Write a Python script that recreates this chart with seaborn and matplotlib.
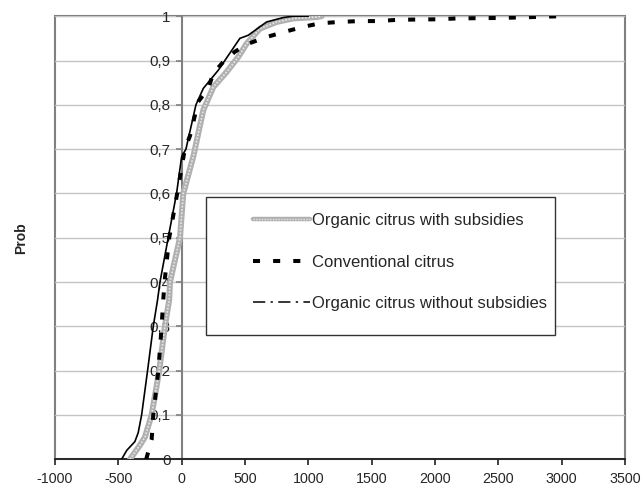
import numpy as np
import pandas as pd
import matplotlib
matplotlib.use("Agg")
import matplotlib.pyplot as plt
from matplotlib.lines import Line2D
from matplotlib.patches import Rectangle
import seaborn as sns

# Curvas de probabilidade acumulada
sub_x = [-408, -329, -290, -237, -177, -132, -98, -92, -13, 13, 92, 105, 131, 171, 250,
         355, 447, 513, 618, 750, 882, 1066, 1106]
sub_y = [0.0, 0.032, 0.05, 0.10, 0.20, 0.30, 0.36, 0.40, 0.50, 0.60, 0.683, 0.70, 0.735,
         0.788, 0.84, 0.874, 0.908, 0.938, 0.972, 0.987, 0.995, 0.998, 1.0]

conv_x = [-280, -237, -224, -184, -158, -145, -135, -98, -35, 25, 66, 131, 210, 250, 329,
          421, 526, 671, 816, 961, 1092, 1243, 1401, 1556, 1709, 2017, 2175, 2488, 2641, 3000]
conv_y = [0.0, 0.044, 0.10, 0.20, 0.30, 0.36, 0.40, 0.50, 0.60, 0.70, 0.73, 0.807, 0.837,
          0.871, 0.897, 0.92, 0.938, 0.953, 0.965, 0.976, 0.984, 0.987, 0.989, 0.989, 0.992,
          0.993, 0.995, 0.996, 0.997, 1.0]

nosub_x = [-474, -434, -369, -343, -316, -269, -224, -190, -171, -106, -40, 0, 34, 113, 171,
           289, 460, 526, 671, 803, 882, 1000]
nosub_y = [0.0, 0.02, 0.04, 0.06, 0.10, 0.20, 0.30, 0.36, 0.40, 0.50, 0.60, 0.683, 0.70,
           0.80, 0.837, 0.878, 0.95, 0.957, 0.987, 0.997, 1.0, 1.0]

labels = ["Organic citrus with subsidies", "Conventional citrus",
          "Organic citrus without subsidies"]
x_ticks = [-1000, -500, 0, 500, 1000, 1500, 2000, 2500, 3000, 3500]
y_ticks = [0, 0.1, 0.2, 0.3, 0.4, 0.5, 0.6, 0.7, 0.8, 0.9, 1]

sns.set_theme(style="white")
plt.rcParams['font.family'] = ['Liberation Sans', 'DejaVu Sans']

fig = plt.figure(figsize=(6.41, 4.88), dpi=100)
ax = fig.add_axes([0.0858, 0.0588, 0.889, 0.908])

df_sub = pd.DataFrame({'x': sub_x, 'y': sub_y})
df_conv = pd.DataFrame({'x': conv_x, 'y': conv_y})
df_nosub = pd.DataFrame({'x': nosub_x, 'y': nosub_y})

# linha cinza "hachurada" (cinza + pontilhado claro por cima)
sns.lineplot(data=df_sub, x='x', y='y', ax=ax, sort=False, estimator=None,
             color='#b0b0b0', linewidth=4.3, zorder=3)
sns.lineplot(data=df_sub, x='x', y='y', ax=ax, sort=False, estimator=None,
             color='#e8e8e8', linewidth=1.2, linestyle=(0, (1, 1)), zorder=3.1)
sns.lineplot(data=df_conv, x='x', y='y', ax=ax, sort=False, estimator=None,
             color='black', linewidth=2.9, linestyle=(0, (1.75, 3.25)), zorder=4)
sns.lineplot(data=df_nosub, x='x', y='y', ax=ax, sort=False, estimator=None,
             color='black', linewidth=1.2, zorder=5)

ax.set_xlim(-1000, 3500)
ax.set_ylim(0, 1)
ax.set_xticks(x_ticks)
ax.set_yticks(y_ticks)
ax.set_xticklabels([str(v) for v in x_ticks], fontsize=10.3)
ax.set_yticklabels([('%g' % v).replace('.', ',') for v in y_ticks], fontsize=10.3)

ax.grid(axis='y', color='#c4c4c4', linewidth=1.0)
ax.set_axisbelow(True)

# moldura da área do gráfico
ax.patch.set_edgecolor('#808080')
ax.patch.set_linewidth(1.5)
for s in ['top', 'right']:
    ax.spines[s].set_visible(False)
ax.spines['left'].set_position(('data', 0))
ax.spines['left'].set_color('#808080')
ax.spines['left'].set_linewidth(1.5)
ax.spines['left'].set_zorder(2.5)
ax.spines['bottom'].set_color('#222222')
ax.spines['bottom'].set_linewidth(1.3)
ax.tick_params(axis='x', direction='out', length=4, width=1.2, color='#222222', pad=5,
               bottom=True)
ax.tick_params(axis='y', direction='out', length=4, width=1.2, color='#808080', pad=4,
               left=True)

ax.set_xlabel('')
ax.set_ylabel('Prob', fontsize=10, fontweight='bold')
ax.yaxis.set_label_coords(-0.048, 0.5)

# caixa da legenda
ax.add_patch(Rectangle((0.265, 0.280), 0.612, 0.311, transform=ax.transAxes,
                       facecolor='white', edgecolor='#333333', linewidth=1.0, zorder=6))
handles = [
    (Line2D([], [], color='#b0b0b0', linewidth=3.2),
     Line2D([], [], color='#e8e8e8', linewidth=1.0, linestyle=(0, (1, 1)))),
    Line2D([], [], color='black', linewidth=2.9, linestyle=(0, (1.75, 3.25))),
    Line2D([], [], color='black', linewidth=1.1, linestyle=(0, (8, 3.5, 1.5, 3.5))),
]
leg = ax.legend(handles, labels, loc='upper left', bbox_to_anchor=(0.347, 0.556),
                frameon=False, fontsize=12, handlelength=3.42, handletextpad=0.12,
                labelspacing=1.6, borderpad=0, borderaxespad=0)
leg.set_zorder(7)

fig.savefig('out.png', dpi=100)
